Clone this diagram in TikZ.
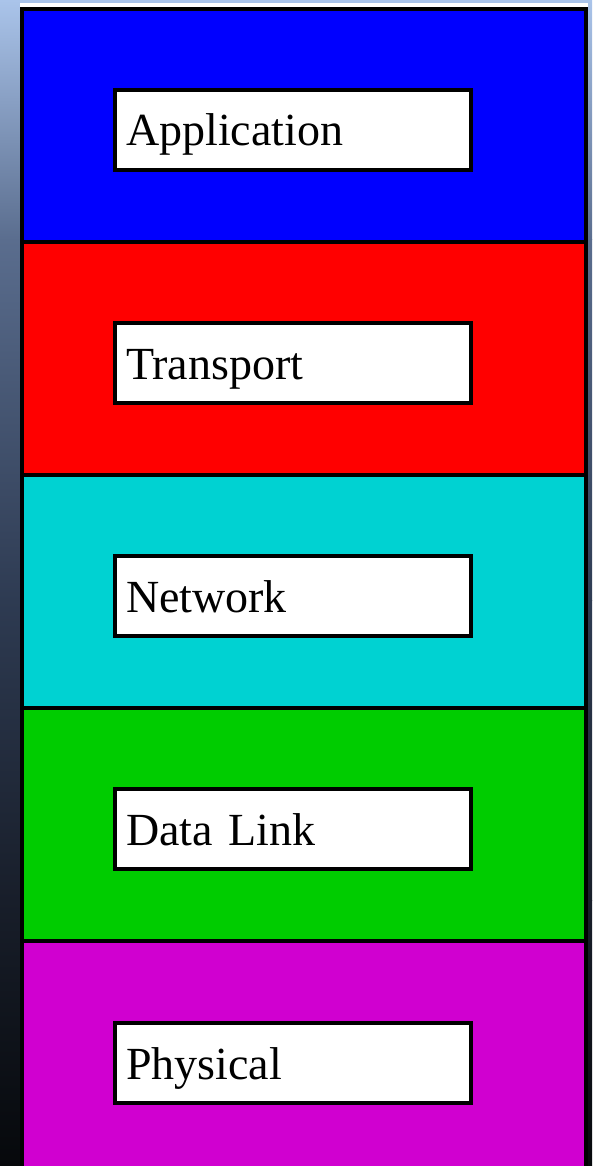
\documentclass[tikz,border=0pt]{standalone}
\usepackage{fontspec}
\setmainfont{Liberation Serif}
\definecolor{bgA}{HTML}{AAC4EA}
\definecolor{bgB}{HTML}{5A6D8E}
\definecolor{bgC}{HTML}{2E3B52}
\definecolor{bgD}{HTML}{181E2A}
\definecolor{bgE}{HTML}{06080B}
\definecolor{appblue}{HTML}{0000FF}
\definecolor{transred}{HTML}{FF0000}
\definecolor{netcyan}{HTML}{00D2D2}
\definecolor{linkgreen}{HTML}{00CC00}
\definecolor{phymagenta}{HTML}{D000D0}
\tikzset{
  layerbox/.style={draw=black, line width=4pt, minimum width=564pt, minimum height=233pt, inner sep=0pt, outer sep=0pt},
  namebox/.style={draw=black, fill=white, line width=4pt, minimum width=356pt, minimum height=80pt,
    inner xsep=11pt, inner ysep=0pt, text width=334pt, align=left, text height=36pt, text depth=4pt,
    font=\fontsize{46}{50}\selectfont, outer sep=0pt}
}
\begin{document}
\begin{tikzpicture}[x=1pt, y=-1pt]
\useasboundingbox (0,0) rectangle (592,1166);
% backdrop gradient
\shade[top color=bgA, bottom color=bgB] (0,0) rectangle (592,240);
\shade[top color=bgB, bottom color=bgC] (0,240) rectangle (592,600);
\shade[top color=bgC, bottom color=bgD] (0,600) rectangle (592,900);
\shade[top color=bgD, bottom color=bgE] (0,900) rectangle (592,1166.5);
\fill[white] (20,3) rectangle (588,8);
% protocol layers
\begin{scope}
\clip (0,0) rectangle (592,1166);
\node[layerbox, fill=appblue]    (app)  at (304,125.5) {};
\node[layerbox, fill=transred]   (tra)  at (304,358.5) {};
\node[layerbox, fill=netcyan]    (net)  at (304,591.5) {};
\node[layerbox, fill=linkgreen]  (lnk)  at (304,824.5) {};
\node[layerbox, fill=phymagenta] (phy)  at (304,1057.5) {};
\end{scope}
% layer names
\node[namebox] (appname) at (293,130)  {Application};
\node[namebox] (traname) at (293,363)  {Transport};
\node[namebox] (netname) at (293,596)  {Network};
\node[namebox] (lnkname) at (293,829)  {Data Link};
\node[namebox] (phyname) at (293,1063) {Physical};
\end{tikzpicture}
\end{document}
